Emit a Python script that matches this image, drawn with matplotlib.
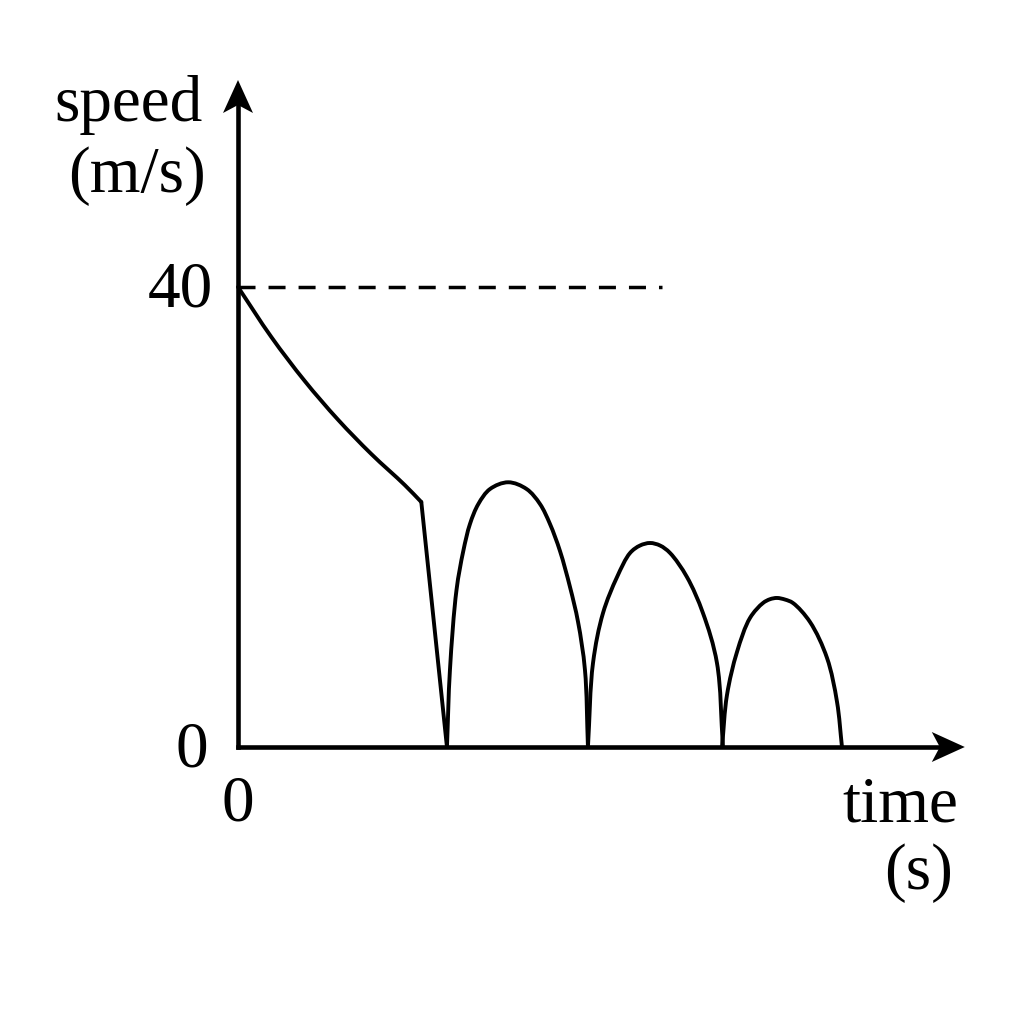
import numpy as np
import matplotlib.pyplot as plt
from matplotlib.path import Path
from matplotlib.patches import PathPatch, Polygon

# values (time units arbitrary, speed in m/s)
t_decay = [0, 2.90, 5.80, 8.70, 11.59, 14.50, 15.94]
v_decay = [40, 35.65, 31.83, 28.46, 25.48, 22.78, 21.30]

t_drop = [15.94, 18.17]
v_drop = [21.30, 0]

t_arch1 = [18.17, 18.43, 19.00, 19.59, 20.17, 20.90, 21.91, 23.50, 25.10, 26.26, 27.13, 28.00,
           28.87, 29.57, 30.17, 30.43]
v_arch1 = [0, 6.70, 13.65, 17.04, 19.39, 21.13, 22.43, 23.02, 22.43, 21.13, 19.39, 17.04,
           13.91, 10.87, 6.70, 0]

t_arch2 = [30.43, 30.87, 31.74, 32.96, 34.09, 34.96, 35.83, 36.70, 37.57, 39.04, 40.43, 41.65, 42.17]
v_arch2 = [0, 7.30, 11.65, 14.78, 16.87, 17.52, 17.74, 17.52, 16.87, 14.78, 11.65, 7.30, 0]

t_arch3 = [42.09, 42.52, 43.39, 44.52, 45.65, 46.26, 46.87, 47.57, 48.26, 49.74, 51.22, 52.09, 52.52]
v_arch3 = [0, 4.52, 8.26, 11.22, 12.52, 12.85, 12.96, 12.82, 12.52, 10.87, 7.74, 3.91, 0]

v_max = 40
t_dash_end = 36.87
t_axis_end = 63.2
v_axis_end = 58.0

PX = 11.5  # pixels per data unit on both axes


def glatt_tee(t, v):
    # centripetal Catmull-Rom through the read points, as cubic Bezier pieces
    p = np.column_stack([t, v])
    s = np.sqrt(np.linalg.norm(np.diff(p, axis=0), axis=1))
    n = len(p)
    verts = [p[0]]
    codes = [Path.MOVETO]
    q = np.vstack([2 * p[0] - p[1], p, 2 * p[-1] - p[-2]])
    d = np.sqrt(np.linalg.norm(np.diff(q, axis=0), axis=1))
    for i in range(n - 1):
        p0, p1, p2, p3 = q[i], q[i + 1], q[i + 2], q[i + 3]
        d0, d1, d2 = d[i], d[i + 1], d[i + 2]
        m1 = (p1 - p0) / d0 - (p2 - p0) / (d0 + d1) + (p2 - p1) / d1
        m2 = (p2 - p1) / d1 - (p3 - p1) / (d1 + d2) + (p3 - p2) / d2
        verts += [p1 + m1 * d1 / 3, p2 - m2 * d1 / 3, p2]
        codes += [Path.CURVE4] * 3
    return Path(verts, codes)


plt.rcParams['font.family'] = ['Liberation Serif', 'DejaVu Serif']

fig = plt.figure(figsize=(10.24, 10.24), dpi=100)
ax = fig.add_axes([0, 0, 1, 1])
ax.set_xlim(-238 / PX, (1024 - 238) / PX)
ax.set_ylim(-(1024 - 747) / PX, 747 / PX)
ax.axis('off')

lw = 2.8
for t, v in [(t_decay, v_decay), (t_arch1, v_arch1), (t_arch2, v_arch2), (t_arch3, v_arch3)]:
    ax.add_patch(PathPatch(glatt_tee(t, v), fill=False, edgecolor='black', lw=lw,
                           joinstyle='round', capstyle='round'))
ax.plot(t_drop, v_drop, color='black', lw=lw, solid_joinstyle='round', solid_capstyle='round')

# dashed reference line at 40
ax.plot([0, t_dash_end], [v_max, v_max], color='black', lw=2.5, dashes=(4.9, 3.75))

# axes
ax_lw = 3.3
ax.plot([0, t_axis_end - 2.0], [0, 0], color='black', lw=ax_lw, solid_capstyle='projecting')
ax.plot([0, 0], [0, v_axis_end - 2.0], color='black', lw=ax_lw, solid_capstyle='projecting')

# arrow heads (notched), sizes in pixels
hl, hw, notch = 33 / PX, 15 / PX, 8 / PX
ax.add_patch(Polygon([(t_axis_end, 0), (t_axis_end - hl, hw), (t_axis_end - hl + notch, 0),
                      (t_axis_end - hl, -hw)], closed=True, color='black', lw=0))
ax.add_patch(Polygon([(0, v_axis_end), (hw, v_axis_end - hl), (0, v_axis_end - hl + notch),
                      (-hw, v_axis_end - hl)], closed=True, color='black', lw=0))

fs = 47
ax.text(-9.5, 55.8, 'speed', fontsize=fs, ha='center', va='center')
ax.text(-8.8, 49.6, '(m/s)', fontsize=fs, ha='center', va='center')
ax.text(-2.2, v_max - 0.35, '40', fontsize=fs, ha='right', va='center')
ax.text(-2.6, -0.35, '0', fontsize=fs, ha='right', va='center')
ax.text(0, -5.0, '0', fontsize=fs, ha='center', va='center')
ax.text(62.6, -5.1, 'time', fontsize=fs, ha='right', va='center')
ax.text(62.2, -11.0, '(s)', fontsize=fs, ha='right', va='center')

plt.savefig('out.png', dpi=100)
